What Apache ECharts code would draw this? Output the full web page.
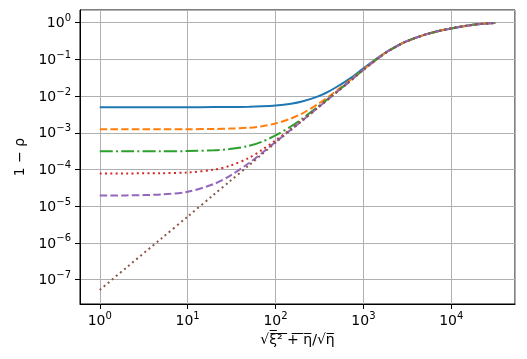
<!DOCTYPE html>
<html>
<head>
<meta charset="utf-8">
<script src="https://cdn.jsdelivr.net/npm/echarts@6/dist/echarts.min.js"></script>
<style>
  html, body { margin: 0; padding: 0; background: #fff; }
  #chart { width: 527px; height: 359px; }
</style>
</head>
<body>
<div id="chart"></div>
<script>
// x = sqrt(xi^2 + eta) / sqrt(eta), shared by all curves
const xs = [1, 2, 5, 10, 20, 30, 50, 70, 100, 150, 200, 300, 400, 500, 700,
            1000, 1500, 2000, 3000, 5000, 7000, 10000, 15000, 20000, 31623];

// 1 - rho
const solidBlue = [5.0e-3, 5.0e-3, 5.0e-3, 5.0e-3, 5.02e-3, 5.05e-3, 5.13e-3, 5.26e-3, 5.54e-3, 6.2e-3,
                   7.1e-3, 9.7e-3, 1.33e-2, 1.8e-2, 3.0e-2, 0.057, 0.116, 0.182, 0.303, 0.473, 0.587,
                   0.70, 0.83, 0.91, 0.985];
const dashOrange = [1.25e-3, 1.25e-3, 1.25e-3, 1.255e-3, 1.27e-3, 1.3e-3, 1.38e-3, 1.51e-3, 1.79e-3, 2.45e-3,
                    3.35e-3, 5.95e-3, 9.55e-3, 1.43e-2, 2.65e-2, 0.053, 0.113, 0.179, 0.30, 0.47, 0.585,
                    0.70, 0.83, 0.91, 0.985];
const dashDotGreen = [3.125e-4, 3.13e-4, 3.14e-4, 3.18e-4, 3.33e-4, 3.6e-4, 4.4e-4, 5.7e-4, 8.5e-4, 1.5e-3,
                      2.4e-3, 5.0e-3, 8.6e-3, 1.33e-2, 2.55e-2, 0.052, 0.112, 0.178, 0.30, 0.47, 0.585,
                      0.70, 0.83, 0.91, 0.985];
const dotRed = [7.8e-5, 7.82e-5, 7.93e-5, 8.3e-5, 9.9e-5, 1.25e-4, 2.08e-4, 3.4e-4, 6.2e-4, 1.28e-3,
                2.18e-3, 4.78e-3, 8.4e-3, 1.31e-2, 2.53e-2, 0.052, 0.112, 0.178, 0.30, 0.47, 0.585,
                0.70, 0.83, 0.91, 0.985];
const dashPurple = [1.95e-5, 1.97e-5, 2.08e-5, 2.47e-5, 4.05e-5, 6.6e-5, 1.5e-4, 2.8e-4, 5.6e-4, 1.22e-3,
                    2.12e-3, 4.72e-3, 8.3e-3, 1.3e-2, 2.52e-2, 0.052, 0.112, 0.178, 0.30, 0.47, 0.585,
                    0.70, 0.83, 0.91, 0.985];
const dotBrown = [5.2e-8, 2.1e-7, 1.3e-6, 5.2e-6, 2.1e-5, 4.7e-5, 1.3e-4, 2.6e-4, 5.4e-4, 1.2e-3,
                  2.1e-3, 4.7e-3, 8.3e-3, 1.3e-2, 2.52e-2, 0.052, 0.112, 0.178, 0.30, 0.47, 0.585,
                  0.70, 0.83, 0.91, 0.985];

const font = 'DejaVu Sans';

function powLabel(v) {
  const e = Math.round(Math.log10(v));
  return '{b|10}{s|' + (e < 0 ? '\u2212' + (-e) : e) + '}';
}
const powRich = {
  b: { fontFamily: font, fontSize: 14, color: '#000', lineHeight: 16, verticalAlign: 'bottom' },
  s: { fontFamily: font, fontSize: 10, color: '#000', lineHeight: 10, padding: [0, 0, 7, 0], verticalAlign: 'bottom' }
};

const gridLine = { show: true, lineStyle: { color: '#b0b0b0', width: 1 } };

function line(data, color, type) {
  return {
    type: 'line',
    data: xs.map((x, i) => [x, data[i]]),
    smooth: 0.3,
    showSymbol: false,
    lineStyle: { color: color, width: 2, type: type },
    itemStyle: { color: color }
  };
}

const chart = echarts.init(document.getElementById('chart'));
chart.setOption({
  animation: false,
  backgroundColor: '#fff',
  grid: { left: 80, right: 12, top: 10, bottom: 55, show: true, borderColor: '#000', borderWidth: 1 },
  xAxis: {
    type: 'log',
    logBase: 10,
    min: 0.596,
    max: 53088,
    name: '\u221Aξ\u0305²\u0305 \u0305+\u0305 \u0305η\u0305/\u221Aη\u0305',
    nameLocation: 'middle',
    nameGap: 28,
    nameTextStyle: { fontFamily: font, fontSize: 14, color: '#000', verticalAlign: 'top' },
    axisLine: { lineStyle: { color: '#000', width: 1 } },
    axisTick: { show: true, length: 5, lineStyle: { color: '#000' } },
    axisLabel: { formatter: powLabel, rich: powRich, margin: 8, showMinLabel: false, showMaxLabel: false },
    splitLine: gridLine
  },
  yAxis: {
    type: 'log',
    logBase: 10,
    min: 2.16e-8,
    max: 2.22,
    name: '1 \u2212 ρ',
    nameLocation: 'middle',
    nameGap: 53,
    nameRotate: 90,
    nameTextStyle: { fontFamily: font, fontSize: 14, color: '#000' },
    axisLine: { lineStyle: { color: '#000', width: 1 } },
    axisTick: { show: true, length: 5, lineStyle: { color: '#000' } },
    axisLabel: { formatter: powLabel, rich: powRich, margin: 9, showMinLabel: false, showMaxLabel: false },
    splitLine: gridLine
  },
  series: [
    line(solidBlue, '#1f77b4', 'solid'),
    line(dashOrange, '#ff7f0e', [7.5, 3.2]),
    line(dashDotGreen, '#2ca02c', [13, 3.2, 2, 3.2]),
    line(dotRed, '#d62728', [2, 3.3]),
    line(dashPurple, '#9467bd', [7.5, 3.2]),
    line(dotBrown, '#8c564b', [2, 3.3])
  ]
});
</script>
</body>
</html>
